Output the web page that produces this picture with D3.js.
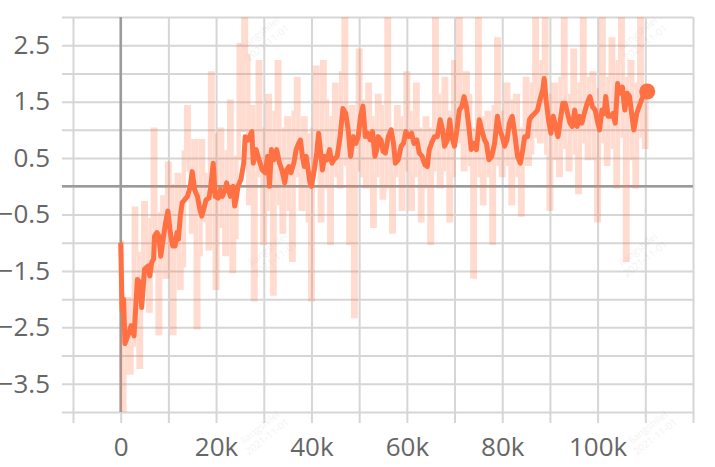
<!DOCTYPE html>
<html>
<head>
<meta charset="utf-8">
<script src="https://cdn.jsdelivr.net/npm/d3@7"></script>
<style>
  html, body { margin: 0; padding: 0; background: #fff; }
  svg { display: block; }
</style>
</head>
<body>
<svg id="chart" width="715" height="467"></svg>
<script>
// ---------- data ----------
// smoothed series: steps (in thousands) and values
const smoothSteps = [0,0.3,0.6,0.9,1.6,2.2,2.8,3.5,4.1,4.4,5.0,5.8,6.1,6.5,6.9,7.1,7.6,8.0,8.4,8.8,9.4,9.9,10.4,10.9,11.4,11.8,12.1,12.5,12.9,13.4,14.0,14.6,15.0,15.5,16.1,16.6,17.0,17.4,17.9,18.5,18.9,19.4,19.8,20.4,20.9,21.3,21.9,22.2,22.6,23.0,23.6,23.9,24.3,24.6,25.2,25.8,26.1,26.7,27.5,27.8,28.4,29.0,29.7,30.3,30.8,31.2,31.6,32.1,32.7,33.3,33.8,34.4,34.8,35.3,35.7,36.3,36.8,37.2,37.7,38.1,38.5,38.9,39.3,39.7,40.0,40.6,41.1,41.5,41.8,42.3,42.8,43.3,43.8,44.3,44.7,45.4,46.0,46.6,47.2,47.7,48.2,48.8,49.3,49.8,50.3,50.8,51.3,51.8,52.3,52.8,53.3,53.7,54.0,54.6,55.0,55.5,56.1,56.7,57.2,57.6,58.2,58.8,59.3,59.8,60.4,61.0,61.5,62.1,62.6,63.2,63.8,64.3,64.7,65.3,65.8,66.4,67.0,67.5,67.9,68.5,69.0,69.4,70.0,70.5,71.0,71.5,72.0,72.5,73.0,73.5,74.0,74.6,75.2,75.7,76.3,76.7,77.2,77.8,78.4,79.0,79.5,80.0,80.5,81.0,81.5,82.1,82.7,83.2,83.8,84.2,84.7,85.3,85.7,86.2,86.8,87.4,87.9,88.5,88.8,89.2,89.7,90.2,90.7,91.2,91.7,92.2,92.7,93.2,93.7,94.2,94.7,95.2,95.7,96.2,96.7,97.2,97.8,98.4,98.9,99.5,99.9,100.4,100.9,101.4,101.7,102.2,102.7,103.2,103.7,104.2,104.7,105.2,105.7,106.2,106.7,107.2,107.6,108.2,108.7,109.2,109.8,110.4];
const smoothValues = [-1.00,-2.21,-2.00,-2.79,-2.62,-2.47,-2.65,-1.65,-1.71,-2.15,-1.47,-1.41,-1.59,-1.35,-1.29,-0.88,-0.82,-0.88,-1.24,-1.00,-0.65,-0.44,-0.82,-1.06,-1.06,-0.82,-0.94,-0.53,-0.29,-0.24,-0.18,0.00,0.26,-0.06,-0.18,-0.41,-0.53,-0.41,-0.24,-0.21,0.00,0.41,-0.18,-0.21,-0.06,-0.18,-0.06,0.06,-0.06,-0.18,0.00,-0.35,-0.18,0.00,0.12,0.41,0.88,0.82,0.97,0.41,0.65,0.47,0.29,0.24,0.53,0.00,0.65,0.47,0.65,0.41,0.29,0.06,0.29,0.35,0.24,0.41,0.65,0.74,0.82,0.53,0.35,0.53,0.29,0.06,0.00,0.29,0.59,0.94,0.71,0.29,0.53,0.47,0.65,0.41,0.47,0.53,0.88,1.38,1.29,1.00,0.53,0.88,0.76,0.88,1.24,1.42,0.88,0.94,0.82,0.97,0.53,0.65,0.88,0.82,0.62,0.59,0.88,1.00,0.76,0.41,0.47,0.71,0.76,0.97,0.88,0.94,0.76,0.82,0.59,0.53,0.38,0.35,0.65,0.79,0.88,0.88,1.18,1.00,0.71,0.82,1.18,0.88,0.71,1.00,1.35,1.41,1.59,1.41,1.06,0.65,0.76,0.65,1.18,1.00,0.82,0.76,0.47,0.53,0.76,1.24,1.00,0.88,0.71,0.82,1.12,1.24,0.88,0.53,0.41,0.59,0.88,0.88,1.18,1.24,1.29,1.35,1.53,1.71,1.91,1.53,1.18,0.94,1.24,1.06,0.88,1.18,1.47,1.47,1.29,1.12,1.06,1.35,1.06,1.24,1.12,1.29,1.47,1.59,1.41,1.35,1.18,1.00,1.35,1.29,1.59,1.24,1.24,1.29,1.12,1.82,1.65,1.76,1.35,1.65,1.59,1.24,1.00,1.29,1.41,1.53,1.65,1.68];

// raw series: steps (in thousands) and values
const rawSteps = [0,0.5,1,1.5,2,2.5,3,3.5,4,4.5,5,5.5,6,6.5,7,7.5,8,8.5,9,9.5,10,10.5,11,11.5,12,12.5,13,13.5,14,14.5,15,15.5,16,16.5,17,17.5,18,18.5,19,19.5,20,20.5,21,21.5,22,22.5,23,23.5,24,24.5,25,25.5,26,26.5,27,27.5,28,28.5,29,29.5,30,30.5,31,31.5,32,32.5,33,33.5,34,34.5,35,35.5,36,36.5,37,37.5,38,38.5,39,39.5,40,40.5,41,41.5,42,42.5,43,43.5,44,44.5,45,45.5,46,46.5,47,47.5,48,48.5,49,49.5,50,50.5,51,51.5,52,52.5,53,53.5,54,54.5,55,55.5,56,56.5,57,57.5,58,58.5,59,59.5,60,60.5,61,61.5,62,62.5,63,63.5,64,64.5,65,65.5,66,66.5,67,67.5,68,68.5,69,69.5,70,70.5,71,71.5,72,72.5,73,73.5,74,74.5,75,75.5,76,76.5,77,77.5,78,78.5,79,79.5,80,80.5,81,81.5,82,82.5,83,83.5,84,84.5,85,85.5,86,86.5,87,87.5,88,88.5,89,89.5,90,90.5,91,91.5,92,92.5,93,93.5,94,94.5,95,95.5,96,96.5,97,97.5,98,98.5,99,99.5,100,100.5,101,101.5,102,102.5,103,103.5,104,104.5,105,105.5,106,106.5,107,107.5,108,108.5,109,109.5,110,110.4];
const rawValues = [-1.0,-4.2,-3.3,-2.0,-3.3,-2.8,-0.4,-1.2,-3.2,-1.8,-0.3,-1.0,-2.2,-0.6,1.0,-1.5,-2.6,-0.5,-0.2,-1.6,0.4,0.0,-2.6,-0.4,0.2,-1.8,-1.4,0.6,1.4,0.3,-0.8,0.8,-2.5,-1.2,0.8,0.2,-0.6,-1.1,2.0,0.9,-1.8,0.3,1.0,-0.7,-1.2,0.6,1.5,-1.5,-0.9,0.5,2.5,1.0,3.3,2.3,-0.3,1.4,-2.0,0.2,2.2,1.0,-1.0,-0.4,1.6,0.9,-1.9,1.3,2.2,-0.3,-0.8,1.0,1.2,-0.4,-1.3,1.3,1.9,0.2,-0.4,1.2,0.9,-0.6,-2.0,1.0,2.1,0.4,-0.6,2.2,1.5,0.0,-1.0,1.2,1.8,0.2,0.0,2.0,3.3,0.4,-1.0,1.4,-2.3,0.3,2.4,1.5,0.2,0.0,1.8,1.2,-0.7,0.2,1.6,1.4,-0.2,0.0,3.3,1.0,-0.8,0.2,1.4,1.2,-0.4,0.3,2.0,1.3,-0.4,0.2,1.8,1.0,-0.6,0.0,1.2,1.0,-1.0,0.3,3.3,1.6,0.0,0.3,1.9,1.3,-0.6,0.2,2.2,1.2,3.3,0.8,0.3,2.0,1.6,0.4,-1.6,1.0,3.3,0.2,-0.3,1.2,1.3,0.2,-1.0,1.4,2.6,0.4,0.2,1.3,1.8,0.4,-0.3,1.5,1.6,0.2,-0.5,1.0,1.9,0.4,0.6,1.8,3.3,0.9,0.8,2.2,3.3,0.6,-0.4,1.6,1.8,0.5,0.2,1.9,3.3,0.7,0.3,1.6,2.4,0.6,-0.1,1.8,3.3,0.8,0.5,1.9,2.0,0.5,-0.6,1.7,3.3,0.8,0.4,1.9,2.6,0.7,0.0,2.2,3.3,0.9,-1.3,1.9,2.2,0.5,0.0,1.8,3.3,0.9,0.7,1.7];

// axes
const xGridTicks = [-10000,0,10000,20000,30000,40000,50000,60000,70000,80000,90000,100000,110000,120000];
const xLabelTicks = [0,20000,40000,60000,80000,100000];
const yGridTicks = [-4,-3.5,-3,-2.5,-2,-1.5,-1,-0.5,0,0.5,1,1.5,2,2.5,3];
const yLabelTicks = [-3.5,-2.5,-1.5,-0.5,0.5,1.5,2.5];
const watermarkLines = ["liangshilei", "2021-11-01"];

// ---------- layout ----------
const svg = d3.select("#chart");
const pL = 73, pR = 693, pT = 17, pB = 412, tickLen = 11;
const x = d3.scaleLinear().domain([-10000, 120000]).range([pL, pR]);
const y = d3.scaleLinear().domain([-4, 3]).range([pB, pT]);
const font = "'Open Sans', 'Noto Sans', sans-serif";
const gridColor = "#d6d6d6";
const zeroColor = "#9a9a9a";
const lineColor = "#ff7043";

// horizontal grid + y labels
const gy = svg.append("g")
  .attr("transform", `translate(${pL - tickLen},0)`)
  .call(d3.axisLeft(y).tickValues(yGridTicks)
    .tickSize(-(pR - pL + tickLen))
    .tickPadding(12)
    .tickFormat(d => yLabelTicks.includes(d) ? d3.format(".1f")(d) : ""));
gy.select(".domain").remove();
gy.selectAll(".tick line").attr("stroke", gridColor).attr("stroke-width", 2);
gy.selectAll(".tick text").attr("font-family", font).attr("font-size", 26)
  .attr("fill", "#666").attr("dy", "0.32em");

// vertical grid + x labels
const gx = svg.append("g")
  .attr("transform", `translate(0,${pB + tickLen})`)
  .call(d3.axisBottom(x).tickValues(xGridTicks)
    .tickSize(-(pB - pT + tickLen))
    .tickPadding(15)
    .tickFormat(d => xLabelTicks.includes(d) ? (d === 0 ? "0" : (d / 1000) + "k") : ""));
gx.select(".domain").remove();
gx.selectAll(".tick line").attr("stroke", gridColor).attr("stroke-width", 2);
gx.selectAll(".tick text").attr("font-family", font).attr("font-size", 26).attr("fill", "#666");

// zero lines
svg.append("line").attr("x1", pL - tickLen).attr("x2", pR)
  .attr("y1", y(0)).attr("y2", y(0))
  .attr("stroke", zeroColor).attr("stroke-width", 2.5);
svg.append("line").attr("x1", x(0)).attr("x2", x(0))
  .attr("y1", pT).attr("y2", pB)
  .attr("stroke", zeroColor).attr("stroke-width", 2.5);

// watermarks
const wm = [[262,36],[640,36],[270,252],[640,252],[262,430],[650,430]];
wm.forEach(([wx, wy]) => {
  const t = svg.append("text")
    .attr("transform", `translate(${wx},${wy}) rotate(-38)`)
    .attr("font-family", font).attr("font-size", 10)
    .attr("fill", "#000").attr("opacity", 0.05).attr("text-anchor", "middle");
  watermarkLines.forEach((s, i) => t.append("tspan").attr("x", 0).attr("dy", i ? 12 : 0).text(s));
});

// clip
svg.append("clipPath").attr("id", "plotclip").append("rect")
  .attr("x", pL).attr("y", pT).attr("width", pR - pL).attr("height", pB - pT);

const plot = svg.append("g").attr("clip-path", "url(#plotclip)");

// raw line
const rawData = rawSteps.map((s, i) => [s * 1000, rawValues[i]]);
plot.append("g").attr("opacity", 0.25)
  .append("path")
  .datum(rawData)
  .attr("fill", "none").attr("stroke", lineColor).attr("stroke-width", 4.5)
  .attr("stroke-linejoin", "miter")
  .attr("d", d3.line().curve(d3.curveStep).x(d => x(d[0])).y(d => y(d[1])));

// smoothed line
const smoothData = smoothSteps.map((s, i) => [s * 1000, smoothValues[i]]);
plot.append("path")
  .datum(smoothData)
  .attr("fill", "none").attr("stroke", lineColor).attr("stroke-width", 5)
  .attr("stroke-linejoin", "round")
  .attr("d", d3.line().x(d => x(d[0])).y(d => y(d[1])));

// end marker
const last = smoothData[smoothData.length - 1];
svg.append("circle").attr("cx", x(last[0])).attr("cy", y(last[1])).attr("r", 8).attr("fill", lineColor);
</script>
</body>
</html>
